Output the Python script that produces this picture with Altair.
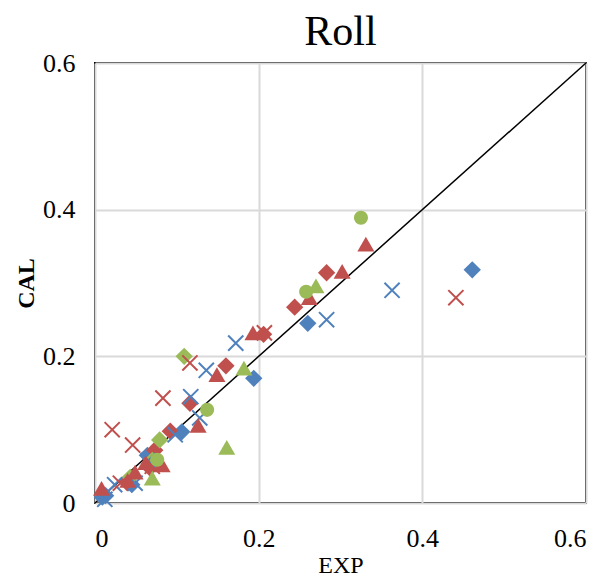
import altair as alt
import pandas as pd

# ---- data ----
blue_dia_x = [0.461, 0.260, 0.194, 0.106, 0.064, 0.009, 0.013, 0.045]
blue_dia_y = [0.318, 0.245, 0.170, 0.097, 0.065, 0.008, 0.010, 0.025]

red_dia_x = [0.283, 0.244, 0.206, 0.160, 0.116, 0.092, 0.073, 0.067, 0.040]
red_dia_y = [0.314, 0.267, 0.230, 0.187, 0.136, 0.098, 0.072, 0.048, 0.030]

green_dia_x = [0.109, 0.079, 0.043, 0.070]
green_dia_y = [0.200, 0.086, 0.035, 0.058]

blue_x_x = [0.363, 0.283, 0.172, 0.136, 0.117, 0.128, 0.098, 0.065, 0.049, 0.024, 0.012]
blue_x_y = [0.290, 0.250, 0.218, 0.181, 0.145, 0.116, 0.093, 0.058, 0.027, 0.025, 0.005]

red_x_x = [0.441, 0.207, 0.116, 0.083, 0.021, 0.046, 0.031, 0.070]
red_x_y = [0.280, 0.232, 0.191, 0.143, 0.100, 0.079, 0.027, 0.050]

red_tri_x = [0.331, 0.302, 0.262, 0.193, 0.149, 0.126, 0.082, 0.049, 0.040, 0.008, 0.062]
red_tri_y = [0.353, 0.316, 0.280, 0.232, 0.175, 0.106, 0.052, 0.042, 0.031, 0.020, 0.055]

green_tri_x = [0.270, 0.182, 0.161, 0.070]
green_tri_y = [0.296, 0.184, 0.076, 0.034]

green_cir_x = [0.325, 0.258, 0.137, 0.076]
green_cir_y = [0.389, 0.288, 0.127, 0.059]

diag = [0.0, 0.6]

BLUE = "#4F81BD"
RED = "#C0504D"
GREEN = "#9BBB59"
FONT = "Liberation Serif, Times New Roman, serif"

def df(xs, ys):
    return pd.DataFrame({"EXP": xs, "CAL": ys})

xsc = alt.Scale(domain=[0, 0.6], nice=False)
ysc = alt.Scale(domain=[0, 0.6], nice=False)

xax = alt.Axis(values=[0, 0.2, 0.4, 0.6], format="~g", title="EXP",
               labelFont=FONT, labelFontSize=26, labelColor="black", labelPadding=22,
               titleFont=FONT, titleFontSize=24, titleFontWeight="normal", titleColor="black",
               titlePadding=2, ticks=False, domain=False,
               gridColor="#D9D9D9", gridWidth=2)
yax = alt.Axis(values=[0, 0.2, 0.4, 0.6], format="~g", title="CAL",
               labelFont=FONT, labelFontSize=26, labelColor="black", labelPadding=20,
               titleFont=FONT, titleFontSize=24, titleFontWeight="bold", titleColor="black",
               titlePadding=4, ticks=False, domain=False,
               gridColor="#D9D9D9", gridWidth=2)

line = alt.Chart(pd.DataFrame({"EXP": diag, "CAL": diag})).mark_line(
    color="black", strokeWidth=1.5
).encode(x=alt.X("EXP:Q", scale=xsc, axis=xax), y=alt.Y("CAL:Q", scale=ysc, axis=yax))

def pts(xs, ys, shape, color, size, filled=True):
    if filled:
        m = alt.Chart(df(xs, ys)).mark_point(shape=shape, filled=True, color=color,
                                             size=size, opacity=1)
    else:
        m = alt.Chart(df(xs, ys)).mark_point(shape=shape, filled=False, color=color,
                                             size=size, opacity=1, strokeWidth=2)
    return m.encode(x=alt.X("EXP:Q", scale=xsc), y=alt.Y("CAL:Q", scale=ysc))

XPATH = "M-1,-1L1,1M-1,1L1,-1"

layers = [
    line,
    pts(blue_dia_x, blue_dia_y, "diamond", BLUE, 300),
    pts(red_dia_x, red_dia_y, "diamond", RED, 300),
    pts(green_dia_x, green_dia_y, "diamond", GREEN, 300),
    pts(blue_x_x, blue_x_y, XPATH, BLUE, 230, filled=False),
    pts(red_x_x, red_x_y, XPATH, RED, 230, filled=False),
    pts(red_tri_x, red_tri_y, "triangle-up", RED, 290),
    pts(green_tri_x, green_tri_y, "triangle-up", GREEN, 290),
    pts(green_cir_x, green_cir_y, "circle", GREEN, 200),
]

chart = alt.layer(*layers).properties(
    width=491, height=440,
    title=alt.TitleParams("Roll", font=FONT, fontSize=42, fontWeight="normal",
                          color="black", anchor="middle", offset=-4),
    autosize=alt.AutoSizeParams(type="none"),
    padding={"left": 95, "top": 63, "right": 25, "bottom": 77},
).configure_view(stroke="black", strokeWidth=2)

chart.save("out.html", embed_options={"renderer": "svg", "actions": False})
